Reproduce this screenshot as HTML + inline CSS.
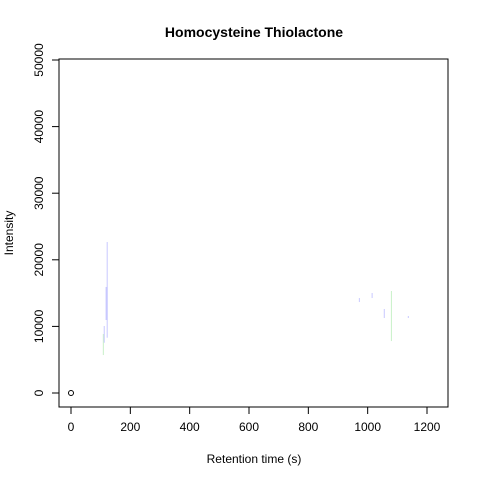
<!DOCTYPE html>
<html><head><meta charset="utf-8"><style>body{margin:0;background:#fff}svg{display:block}text{font-family:"Liberation Sans",Arial,sans-serif}</style></head>
<body>
<svg id="c" width="480" height="480" xmlns="http://www.w3.org/2000/svg">
<text x="254" y="37" text-anchor="middle" font-weight="bold" font-size="14">Homocysteine Thiolactone</text>
<rect x="59" y="59" width="389" height="348" fill="none" stroke="#000"/>
<text x="254" y="463" text-anchor="middle" font-size="12">Retention time (s)</text>
<text transform="translate(13,233) rotate(-90)" text-anchor="middle" font-size="12">Intensity</text>
<g id="ax"></g><g id="marks"></g>
</svg>
<script>
const xTicks=[0,200,400,600,800,1000,1200];
const yTicks=[0,10000,20000,30000,40000,50000];
const segX=[109,112,122,120,972,1015,1056,1080,1137];
const segYmin=[5700,7550,8300,10960,13660,14260,11260,7800,11260];
const segYmax=[8860,10060,22670,15920,14260,15015,12610,15315,11560];
const segColor=["#c8f0c8","#c8c8ff","#c8c8ff","#c8c8ff","#c8c8ff","#c8c8ff","#c8c8ff","#c8f0c8","#c8c8ff"];
const segWidth=[1,1,1,2,1,1,1,1,1];
const ptX=[0],ptY=[0];
const X=v=>71+v*0.29667, Y=v=>393-v*0.00666;
const NS="http://www.w3.org/2000/svg";
const ax=document.getElementById('ax'),mk=document.getElementById('marks');
function el(t,a,p){const e=document.createElementNS(NS,t);for(const k in a)e.setAttribute(k,a[k]);p.appendChild(e);return e;}
el('line',{x1:X(0),x2:X(1200),y1:407,y2:407,stroke:'#000'},ax);
xTicks.forEach(v=>{const l=el('line',{x1:X(v),x2:X(v),y1:407,y2:414,stroke:'#000'},ax);

const t=el('text',{x:X(v),y:431,'text-anchor':'middle','font-size':12},ax);t.textContent=v;
});
el('line',{x1:59,x2:59,y1:Y(0),y2:Y(50000),stroke:'#000'},ax);
yTicks.forEach(v=>{const l=el('line',{x1:52,x2:59,y1:Y(v),y2:Y(v),stroke:'#000'},ax);

const t=el('text',{transform:`translate(43,${Y(v)}) rotate(-90)`,'text-anchor':'middle','font-size':12},ax);t.textContent=v;
});
segX.forEach((x,i)=>{const l=el('line',{x1:X(x),x2:X(x),y1:Y(segYmin[i]),y2:Y(segYmax[i]),stroke:segColor[i],'stroke-width':segWidth[i]},mk);

});
ptX.forEach((x,i)=>{const c=el('circle',{cx:X(x),cy:Y(ptY[i]),r:2.5,fill:'none',stroke:'#000'},mk);

});
</script>
</body></html>
